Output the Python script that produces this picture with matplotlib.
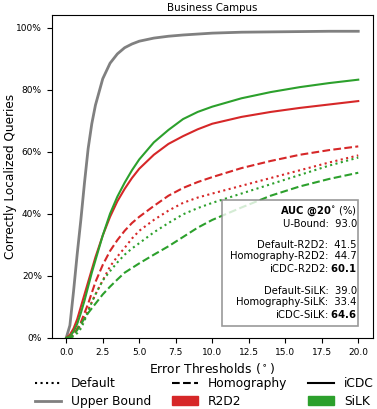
import numpy as np
import matplotlib
matplotlib.use('Agg')
import matplotlib.pyplot as plt
from matplotlib.lines import Line2D
from matplotlib.patches import Patch, Rectangle
from matplotlib.ticker import PercentFormatter

# error thresholds (deg) and fraction of correctly localized queries
thresholds = [0, 0.25, 0.5, 0.75, 1, 1.25, 1.5, 1.75, 2, 2.5, 3, 3.5, 4, 4.5, 5,
              6, 7, 8, 9, 10, 12, 14, 16, 18, 20]
upper_bound = [0, 0.04, 0.15, 0.27, 0.38, 0.5, 0.61, 0.69, 0.75, 0.835, 0.885, 0.915,
               0.935, 0.947, 0.956, 0.966, 0.972, 0.976, 0.979, 0.982, 0.985, 0.986,
               0.987, 0.988, 0.988]
r2d2_icdc = [0, 0.01, 0.03, 0.06, 0.10, 0.14, 0.18, 0.22, 0.26, 0.33, 0.39, 0.44,
             0.48, 0.515, 0.545, 0.59, 0.625, 0.65, 0.672, 0.69, 0.712, 0.728, 0.741,
             0.752, 0.763]
silk_icdc = [0, 0.005, 0.02, 0.045, 0.08, 0.12, 0.165, 0.21, 0.25, 0.33, 0.40, 0.455,
             0.50, 0.54, 0.575, 0.63, 0.67, 0.705, 0.728, 0.745, 0.772, 0.792, 0.808,
             0.821, 0.832]
r2d2_homo = [0, 0, 0.01, 0.03, 0.05, 0.08, 0.11, 0.145, 0.18, 0.235, 0.28, 0.315,
             0.345, 0.37, 0.39, 0.425, 0.458, 0.483, 0.502, 0.518, 0.547, 0.57, 0.59,
             0.605, 0.617]
r2d2_default = [0, 0, 0.01, 0.025, 0.04, 0.065, 0.09, 0.115, 0.14, 0.185, 0.23, 0.262,
                0.29, 0.32, 0.345, 0.38, 0.41, 0.435, 0.452, 0.465, 0.49, 0.515, 0.54,
                0.565, 0.588]
silk_default = [0, 0, 0.005, 0.015, 0.03, 0.055, 0.085, 0.115, 0.14, 0.185, 0.215,
                0.243, 0.268, 0.288, 0.305, 0.34, 0.37, 0.398, 0.418, 0.435, 0.465,
                0.495, 0.525, 0.555, 0.581]
silk_homo = [0, 0, 0.01, 0.025, 0.045, 0.062, 0.08, 0.095, 0.11, 0.14, 0.165, 0.188,
             0.21, 0.225, 0.24, 0.268, 0.295, 0.325, 0.355, 0.38, 0.42, 0.458, 0.488,
             0.512, 0.532]

auc_names = ['U-Bound', None, 'Default-R2D2', 'Homography-R2D2', 'iCDC-R2D2', None,
             'Default-SiLK', 'Homography-SiLK', 'iCDC-SiLK']
auc_values = ['93.0', None, '41.5', '44.7', '60.1', None, '39.0', '33.4', '64.6']
auc_bold = ['iCDC-R2D2', 'iCDC-SiLK']

RED = '#d62728'
GREEN = '#2ca02c'

fig = plt.figure(figsize=(3.77, 4.09), dpi=100)
ax = fig.add_axes([0.137, 0.174, 0.852, 0.789])

ax.plot(thresholds, upper_bound, color='gray', lw=2)
ax.plot(thresholds, r2d2_icdc, color=RED, lw=1.5)
ax.plot(thresholds, silk_icdc, color=GREEN, lw=1.5)
ax.plot(thresholds, r2d2_homo, color=RED, lw=1.5, ls='--')
ax.plot(thresholds, r2d2_default, color=RED, lw=1.5, ls=':')
ax.plot(thresholds, silk_default, color=GREEN, lw=1.5, ls=':')
ax.plot(thresholds, silk_homo, color=GREEN, lw=1.5, ls='--')

ax.set_xlim(-1, 21)
ax.set_ylim(0, 1.04)
ax.set_xticks(np.arange(0, 20.1, 2.5))
ax.set_yticks(np.arange(0, 1.01, 0.2))
ax.yaxis.set_major_formatter(PercentFormatter(1.0, decimals=0))
ax.tick_params(labelsize=6.5)
ax.set_xlabel('Error Thresholds ($^\\circ$)', fontsize=8.9, labelpad=3)
ax.set_ylabel('Correctly Localized Queries', fontsize=8.7)
ax.yaxis.set_label_coords(-0.108, 0.5)
ax.set_title('Business Campus', fontsize=7.4, pad=3)

# AUC box
ax.add_patch(Rectangle((0.53, 0.036), 0.423, 0.391, transform=ax.transAxes,
                       facecolor='white', edgecolor='gray', alpha=0.8, lw=1.2, zorder=5))
lines = [r'$\bf{AUC\ @20}^{\circ}$ (%)']
for name, val in zip(auc_names, auc_values):
    if name is None:
        lines.append('')
    elif name in auc_bold:
        lines.append(name + ': $\\bf{' + val + '}$')
    else:
        lines.append(name + ':  ' + val)
ax.text(0.950, 0.063, '\n'.join(lines), transform=ax.transAxes, ha='right',
        va='baseline', multialignment='right', fontsize=7.2, linespacing=1.1, zorder=6)

handles = [Line2D([], [], color='black', ls=':', lw=1.5),
           Line2D([], [], color='gray', lw=2),
           Line2D([], [], color='black', ls='--', lw=1.5),
           Patch(color=RED),
           Line2D([], [], color='black', lw=1.5),
           Patch(color=GREEN)]
labels = ['Default', 'Upper Bound', 'Homography', 'R2D2', 'iCDC', 'SiLK']
fig.legend(handles, labels, loc='upper left', bbox_to_anchor=(0.093, 0.078), ncol=3,
           frameon=False, fontsize=8.8, borderpad=0, borderaxespad=0,
           handlelength=2.1, handletextpad=0.8, columnspacing=1.75, labelspacing=0.4)

fig.savefig('out.png', dpi=100)
